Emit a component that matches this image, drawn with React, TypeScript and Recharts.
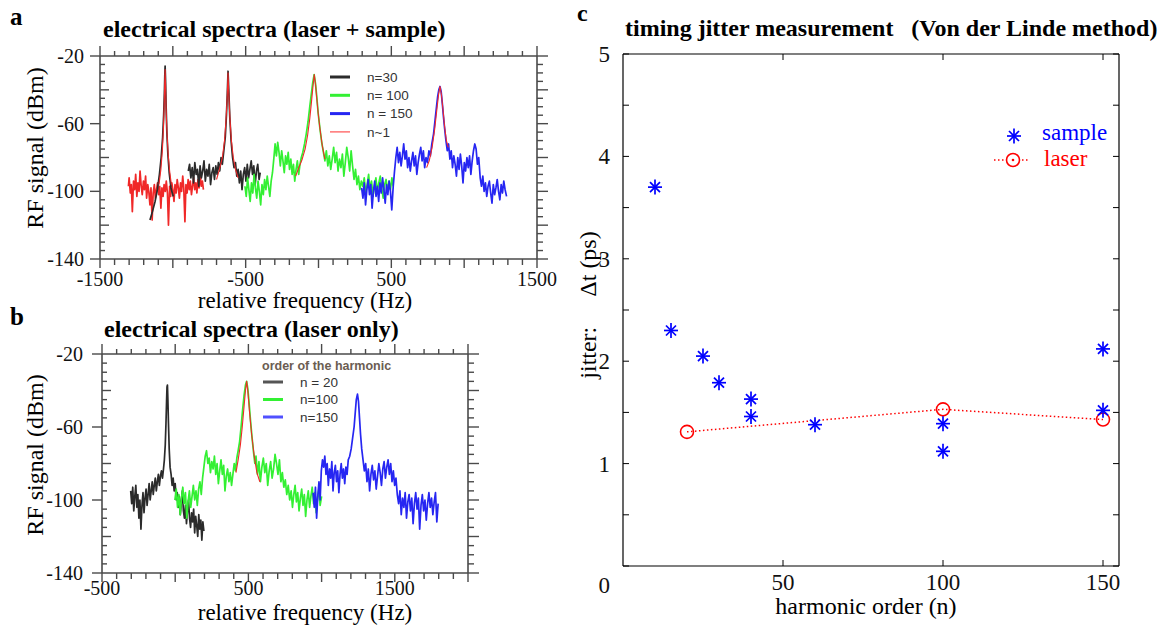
import React from 'react';
import { LineChart, Line, XAxis, YAxis, ComposedChart, Scatter } from 'recharts';

type P = [number, number];

const SERIF = '"Liberation Serif","Times New Roman",Times,serif';
const SANS = '"Liberation Sans",Arial,Helvetica,sans-serif';
const FRAME = '#4a4a4a';

const C_BLACK = '#2b2b2b';
const C_GREEN = '#33f033';
const C_BLUE = '#2626f2';
const C_RED = '#f02828';

// ---------- Panel a : electrical spectra (laser + sample) ----------
const A_RED_NOISE: P[] = [
  [-1305,-97],[-1300,-92],[-1292,-101],[-1285,-96],[-1278,-112],[-1270,-94],[-1262,-99],[-1255,-90],[-1247,-103],[-1240,-95],
  [-1232,-100],[-1225,-88],[-1217,-97],[-1210,-102],[-1202,-94],[-1195,-99],[-1187,-91],[-1180,-104],[-1172,-96],[-1165,-100],
  [-1157,-108],[-1150,-98],[-1142,-117],[-1135,-101],[-1127,-96],[-1120,-104],[-1112,-99],[-1105,-95],[-1097,-102],[-1090,-97],
  [-1082,-110],[-1075,-98],[-1067,-103],[-1060,-96],[-1052,-100],[-1045,-94],[-1037,-101],[-1030,-120],[-1022,-97],[-1015,-103],
  [-1007,-95],[-1000,-99],[-992,-106],[-985,-96],[-977,-101],[-970,-93],[-962,-98],[-955,-104],[-947,-95],[-940,-100],
  [-932,-91],[-925,-98],[-917,-118],[-910,-96],[-902,-101],[-895,-93],[-887,-99],[-880,-94],[-872,-102],[-865,-97],
  [-857,-92],[-850,-99],[-842,-95],[-835,-101],[-827,-93],[-820,-98],[-812,-90],[-805,-97],[-797,-94],[-790,-99],
];
const A_BLACK_PEAK: P[] = [
  [-1157,-117],[-1140,-112],[-1122,-106],[-1106,-99],[-1092,-90],[-1080,-80],[-1070,-68],[-1063,-55],[-1058,-42],[-1055,-31],
  [-1053,-26],[-1050,-34],[-1046,-50],[-1041,-65],[-1034,-78],[-1025,-89],[-1013,-98],[-997,-103],
];
const A_BLACK_NOISE: P[] = [
  [-894,-88],[-885,-84],[-876,-92],[-867,-86],[-858,-95],[-849,-83],[-840,-90],[-831,-87],[-822,-97],[-813,-85],
  [-804,-92],[-795,-88],[-786,-82],[-777,-94],[-768,-87],[-759,-91],[-750,-84],[-741,-96],[-732,-89],[-723,-86],
  [-714,-93],[-705,-85],[-696,-90],[-687,-83],[-678,-88],[-669,-80],[-660,-84],[-650,-76],[-640,-68],[-632,-55],
  [-626,-42],[-621,-29],[-616,-40],[-609,-56],[-600,-70],[-590,-80],[-580,-86],[-570,-83],[-561,-91],[-552,-87],
  [-543,-95],[-534,-88],[-525,-99],[-516,-90],[-507,-86],[-498,-94],[-489,-84],[-480,-92],[-471,-87],[-462,-82],
  [-453,-90],[-444,-85],[-435,-96],[-426,-88],[-417,-84],[-408,-93],[-400,-89],
];
const A_GREEN: P[] = [
  [-505,-97],[-496,-103],[-487,-92],[-478,-99],[-469,-106],[-460,-95],[-451,-101],[-442,-90],[-433,-98],[-424,-104],
  [-415,-94],[-406,-100],[-397,-108],[-388,-96],[-379,-102],[-370,-93],[-361,-99],[-352,-91],[-343,-97],[-334,-103],
  [-325,-94],[-316,-89],[-307,-81],[-298,-72],[-289,-79],[-280,-71],[-271,-77],[-262,-85],[-253,-76],[-244,-82],
  [-235,-89],[-226,-79],[-217,-84],[-208,-77],[-199,-87],[-190,-81],[-181,-90],[-172,-84],[-163,-94],[-154,-87],
  [-145,-82],[-136,-90],[-127,-84],[-118,-80],[-108,-77],[-96,-72],[-84,-66],[-72,-59],[-60,-50],[-50,-43],
  [-40,-36],[-30,-31],[-21,-36],[-12,-44],[-2,-54],[10,-63],[22,-71],[34,-77],[44,-82],[54,-76],
  [64,-85],[74,-79],[84,-87],[94,-81],[104,-74],[114,-83],[124,-77],[134,-88],[144,-81],[154,-86],
  [164,-78],[174,-91],[184,-83],[194,-74],[204,-80],[214,-88],[224,-76],[234,-85],[244,-93],[254,-87],
  [264,-96],[274,-91],[284,-99],[294,-94],[304,-97],[314,-92],[324,-101],[334,-96],[344,-90],[354,-99],
  [364,-94],[374,-103],[384,-97],[394,-92],[404,-100],[414,-95],[424,-91],[434,-98],[444,-104],[454,-96],
  [464,-93],[474,-100],[484,-94],[494,-99],[504,-92],[513,-97],
];
const A_BLUE: P[] = [
  [296,-98],[305,-104],[314,-95],[323,-108],[332,-99],[341,-93],[350,-102],[359,-96],[368,-110],[377,-100],
  [386,-94],[395,-103],[404,-97],[413,-106],[422,-95],[431,-101],[440,-92],[449,-99],[458,-107],[467,-96],
  [476,-102],[485,-94],[494,-100],[503,-111],[513,-97],[522,-88],[531,-80],[540,-74],[549,-83],[558,-77],
  [567,-85],[576,-79],[585,-72],[594,-81],[603,-76],[612,-86],[621,-80],[630,-88],[639,-82],[648,-77],
  [657,-85],[666,-79],[675,-90],[684,-83],[693,-78],[702,-74],[711,-82],[720,-76],[729,-86],[738,-80],
  [748,-83],[758,-76],[768,-79],[778,-72],[790,-66],[800,-58],[810,-50],[818,-44],[826,-40],[834,-38],
  [842,-41],[850,-48],[858,-56],[866,-63],[875,-70],[884,-76],[893,-72],[902,-81],[911,-76],[920,-86],
  [929,-79],[938,-84],[947,-91],[956,-80],[965,-87],[974,-78],[983,-85],[992,-95],[1001,-83],[1010,-88],
  [1019,-80],[1028,-86],[1037,-79],[1046,-90],[1055,-82],[1064,-76],[1073,-72],[1082,-75],[1091,-84],[1100,-80],
  [1110,-92],[1119,-97],[1128,-91],[1137,-100],[1146,-95],[1155,-103],[1164,-97],[1173,-94],[1182,-101],[1191,-107],
  [1200,-96],[1209,-102],[1218,-98],[1227,-93],[1236,-100],[1245,-105],[1254,-96],[1263,-101],[1272,-94],[1281,-99],
  [1291,-103],
];
const A_FIT1: P[] = [
  [-1095,-96],[-1082,-87],[-1072,-76],[-1064,-62],[-1059,-48],[-1056,-36],[-1053,-28],[-1050,-37],[-1046,-52],
  [-1040,-66],[-1032,-78],[-1022,-88],[-1010,-96],
];
const A_FIT2: P[] = [
  [-700,-93],[-680,-87],[-660,-80],[-645,-70],[-635,-58],[-627,-45],[-621,-30],[-616,-42],[-608,-57],[-598,-70],
  [-585,-80],[-570,-87],[-552,-92],
];
const A_FIT3: P[] = [
  [-157,-91],[-135,-86],[-112,-81],[-92,-75],[-75,-67],[-60,-57],[-48,-47],[-38,-38],[-29,-31],[-20,-37],
  [-12,-45],[-2,-54],[10,-63],[26,-73],[44,-81],
];
const A_FIT4: P[] = [
  [742,-86],[760,-82],[780,-74],[798,-63],[812,-52],[824,-43],[834,-38],[844,-43],[855,-52],[866,-62],
  [878,-70],[891,-74],
];
const A_XLABELS = [-1500, -500, 500, 1500];
const A_YLABELS = [-20, -60, -100, -140];
const A_LEGEND = ['n=30', 'n= 100', 'n = 150', 'n~1'];

// ---------- Panel b : electrical spectra (laser only) ----------
const B_BLACK: P[] = [
  [-304,-95],[-297,-102],[-290,-93],[-283,-106],[-276,-98],[-269,-92],[-262,-104],[-255,-97],[-248,-110],[-241,-100],
  [-234,-116],[-227,-103],[-220,-96],[-213,-107],[-206,-99],[-199,-94],[-192,-103],[-185,-97],[-178,-91],[-171,-100],
  [-164,-95],[-157,-90],[-150,-97],[-143,-92],[-136,-88],[-129,-95],[-122,-90],[-115,-86],[-108,-92],[-101,-87],
  [-94,-84],[-87,-88],[-80,-83],[-74,-78],[-68,-70],[-63,-58],[-59,-46],[-56,-38],[-53,-37],[-50,-45],
  [-46,-58],[-41,-72],[-35,-82],[-28,-86],[-21,-92],[-14,-88],[-7,-95],[0,-91],[7,-100],[14,-96],
  [21,-104],[28,-98],[35,-108],[42,-101],[49,-95],[56,-106],[63,-110],[70,-103],[77,-113],[84,-106],
  [91,-100],[98,-110],[105,-115],[112,-107],[119,-112],[126,-105],[133,-118],[140,-109],[147,-114],[154,-120],
  [161,-108],[168,-116],[175,-111],[182,-122],[189,-112],[196,-117],
];
const B_GREEN: P[] = [
  [-2,-100],[7,-94],[16,-104],[25,-97],[34,-108],[43,-99],[52,-93],[61,-102],[70,-96],[79,-110],
  [88,-101],[97,-95],[106,-104],[115,-98],[124,-92],[133,-100],[142,-95],[151,-103],[160,-94],[169,-90],
  [178,-97],[187,-88],[196,-82],[205,-76],[214,-73],[223,-80],[232,-77],[241,-85],[250,-79],[259,-83],
  [268,-76],[277,-86],[286,-80],[295,-91],[304,-84],[313,-78],[322,-86],[331,-81],[340,-95],[349,-87],
  [358,-83],[367,-90],[376,-85],[385,-92],[394,-86],[403,-80],[412,-84],[421,-77],[430,-73],[440,-68],
  [450,-60],[460,-51],[470,-43],[480,-37],[488,-35],[496,-39],[505,-47],[514,-56],[524,-65],[534,-73],
  [544,-80],[552,-76],[562,-86],[572,-79],[582,-90],[592,-82],[602,-77],[612,-85],[622,-80],[632,-92],
  [642,-84],[652,-79],[662,-88],[672,-83],[682,-75],[692,-80],[702,-86],[712,-78],[722,-90],[732,-85],
  [742,-93],[752,-89],[762,-97],[772,-92],[782,-100],[792,-95],[801,-104],[810,-97],[819,-92],[828,-101],
  [837,-96],[846,-106],[855,-99],[864,-94],[873,-103],[882,-97],[891,-109],[900,-100],[909,-95],[918,-104],
  [927,-98],[936,-93],[945,-102],[954,-96],[963,-107],[972,-99],[981,-94],[990,-103],[1000,-98],
];
const B_BLUE: P[] = [
  [942,-96],[950,-104],[958,-93],[966,-110],[974,-98],[982,-90],[990,-100],[998,-84],[1006,-78],[1014,-82],
  [1022,-76],[1030,-86],[1038,-80],[1046,-92],[1054,-83],[1062,-88],[1070,-79],[1078,-95],[1086,-85],[1094,-81],
  [1102,-90],[1110,-84],[1118,-96],[1126,-86],[1134,-80],[1142,-88],[1150,-83],[1158,-91],[1166,-82],[1174,-86],
  [1182,-78],[1192,-76],[1202,-72],[1212,-66],[1222,-60],[1230,-52],[1237,-45],[1245,-42],[1252,-46],[1259,-55],
  [1266,-64],[1274,-72],[1283,-78],[1292,-84],[1301,-80],[1310,-90],[1319,-83],[1328,-95],[1337,-86],[1346,-81],
  [1355,-89],[1364,-84],[1373,-94],[1382,-87],[1391,-80],[1400,-85],[1409,-92],[1418,-83],[1427,-79],[1436,-88],
  [1445,-82],[1454,-78],[1463,-86],[1472,-80],[1481,-90],[1490,-84],[1499,-92],[1508,-88],[1517,-97],[1526,-102],
  [1535,-95],[1544,-108],[1553,-99],[1562,-104],[1571,-96],[1580,-110],[1589,-101],[1598,-97],[1607,-106],[1616,-99],
  [1625,-113],[1634,-102],[1643,-96],[1652,-105],[1661,-99],[1670,-116],[1679,-103],[1688,-97],[1697,-106],[1706,-100],
  [1715,-111],[1724,-102],[1733,-96],[1742,-104],[1751,-99],[1760,-108],[1769,-101],[1778,-96],[1787,-112],[1796,-102],
];
const B_FIT: P[] = [
  [415,-85],[430,-78],[445,-70],[458,-60],[470,-49],[480,-40],[488,-35],[497,-41],[508,-52],[522,-64],
  [540,-76],[558,-85],[578,-90],
];
const B_XLABELS = [-500, 500, 1500];
const B_YLABELS = [-20, -60, -100, -140];
const B_LEGEND_TITLE = 'order of the harmonic';
const B_LEGEND = ['n = 20', 'n=100', 'n=150'];

// ---------- Panel c : timing jitter ----------
const C_SAMPLE_N = [10, 15, 25, 30, 40, 40, 60, 100, 100, 150, 150];
const C_SAMPLE_J = [3.70, 2.30, 2.05, 1.79, 1.63, 1.46, 1.38, 1.39, 1.12, 2.12, 1.52];
const C_LASER_N = [20, 100, 150];
const C_LASER_J = [1.31, 1.53, 1.43];
const C_XLABELS = [50, 100, 150];
const C_YLABELS = [0, 1, 2, 3, 4, 5];

// ---------- helpers ----------
const rows = (pts: P[]) => pts.map(([f, d]) => ({ f, d }));
const steps = (a: number, b: number, s: number) => {
  const out: number[] = [];
  for (let v = a; v <= b + 1e-9; v += s) out.push(Math.round(v * 1000) / 1000);
  return out;
};

const specXTick = (side: 'top' | 'bottom', labels: number[], labelDy: number) => (props: any) => {
  const { x, y, payload } = props;
  const v = payload.value;
  const major = v % 500 === 0;
  const len = side === 'bottom' ? (major ? 9 : 6) : (major ? 10 : 5);
  const dir = side === 'bottom' ? 1 : -1;
  return (
    <g>
      <line x1={x} x2={x} y1={y} y2={y + dir * len} stroke={FRAME} strokeWidth={1.4} />
      {side === 'bottom' && labels.includes(v) ? (
        <text x={x} y={y + labelDy} textAnchor="middle" fontFamily={SERIF} fontSize={20} fill="#111">{String(v)}</text>
      ) : null}
    </g>
  );
};

const specYTick = (side: 'left' | 'right', labels: number[], labelDx: number) => (props: any) => {
  const { x, y, payload } = props;
  const v = payload.value;
  const major = v % 20 === 0;
  if (side === 'left') {
    const lab = labels.includes(v);
    const x2 = lab ? x - 10 : x + (major ? 9 : 5);
    return (
      <g>
        <line x1={x} x2={x2} y1={y} y2={y} stroke={FRAME} strokeWidth={1.4} />
        {lab ? (
          <text x={x - labelDx} y={y} dy="0.35em" textAnchor="end" fontFamily={SERIF} fontSize={20} fill="#111">{String(v)}</text>
        ) : null}
      </g>
    );
  }
  return (
    <g>
      <line x1={x} x2={x + (major ? 11 : 6)} y1={y} y2={y} stroke={FRAME} strokeWidth={1.4} />
    </g>
  );
};

const cXTick = (side: 'top' | 'bottom') => (props: any) => {
  const { x, y, payload } = props;
  const v = payload.value;
  const dir = side === 'bottom' ? -1 : 1;
  return (
    <g>
      <line x1={x} x2={x} y1={y} y2={y + dir * 6} stroke="#000" strokeWidth={1} />
      {side === 'bottom' && C_XLABELS.includes(v) ? (
        <text x={x} y={y + 24} textAnchor="middle" fontFamily={SERIF} fontSize={23} fill="#111">{String(v)}</text>
      ) : null}
    </g>
  );
};

const cYTick = (side: 'left' | 'right') => (props: any) => {
  const { x, y, payload } = props;
  const v = payload.value;
  const dir = side === 'left' ? 1 : -1;
  const lab = side === 'left' && C_YLABELS.includes(v);
  return (
    <g>
      <line x1={x} x2={x + dir * 6} y1={y} y2={y} stroke="#000" strokeWidth={1} />
      {lab ? (
        <text x={x - 13} y={v === 0 ? y + 19 : y} dy="0.35em" textAnchor="end" fontFamily={SERIF} fontSize={23} fill="#111">{String(v)}</text>
      ) : null}
    </g>
  );
};

const Star = (props: any) => {
  const { cx, cy } = props;
  if (cx == null || cy == null) return null;
  return (
    <g stroke="#0000ff" strokeWidth={1.7}>
      <line x1={cx - 7} x2={cx + 7} y1={cy} y2={cy} />
      <line x1={cx} x2={cx} y1={cy - 7.5} y2={cy + 7.5} />
      <line x1={cx - 5} x2={cx + 5} y1={cy - 5} y2={cy + 5} />
      <line x1={cx - 5} x2={cx + 5} y1={cy + 5} y2={cy - 5} />
    </g>
  );
};

const axisLineStyle = { stroke: FRAME, strokeWidth: 1.6 };

export default function App() {
  const aXT = steps(-1500, 1500, 100);
  const bXT = steps(-500, 2000, 100);
  const yT = steps(-140, -20, 5);
  const cYT = steps(0, 5, 0.5);

  const line = (key: string, data: P[], color: string, w: number) => (
    <Line
      key={key}
      xAxisId="b"
      yAxisId="l"
      data={rows(data)}
      dataKey="d"
      type="linear"
      stroke={color}
      strokeWidth={w}
      dot={false}
      activeDot={false}
      isAnimationActive={false}
      strokeLinejoin="round"
    />
  );

  const specAxes = (xt: number[], dom: [number, number], xlabels: number[], ylabels: number[], xDy: number, yDx: number) => [
    <XAxis key="xb" xAxisId="b" type="number" dataKey="f" domain={dom} ticks={xt} interval={0} allowDataOverflow
      tickSize={0} tickMargin={0} tickLine={false} height={30} axisLine={axisLineStyle} tick={specXTick('bottom', xlabels, xDy)} />,
    <XAxis key="xt" xAxisId="t" orientation="top" type="number" dataKey="f" domain={dom} ticks={xt} interval={0} allowDataOverflow
      tickSize={0} tickMargin={0} tickLine={false} height={1} axisLine={axisLineStyle} tick={specXTick('top', xlabels, xDy)} />,
    <YAxis key="yl" yAxisId="l" type="number" domain={[-140, -20]} ticks={yT} interval={0} allowDataOverflow
      tickSize={0} tickMargin={0} tickLine={false} width={60} axisLine={axisLineStyle} tick={specYTick('left', ylabels, yDx)} />,
    <YAxis key="yr" yAxisId="r" orientation="right" type="number" domain={[-140, -20]} ticks={yT} interval={0} allowDataOverflow
      tickSize={0} tickMargin={0} tickLine={false} width={1} axisLine={axisLineStyle} tick={specYTick('right', ylabels, yDx)} />,
  ];

  const sample = C_SAMPLE_N.map((n, i) => ({ n, j: C_SAMPLE_J[i] }));
  const laser = C_LASER_N.map((n, i) => ({ n, j: C_LASER_J[i] }));

  const legendColorsA = [C_BLACK, C_GREEN, C_BLUE, '#ff5050'];
  const legendWidthsA = [3, 3, 3, 1.2];
  const legendColorsB = ['#555555', C_GREEN, '#5050ff'];

  return (
    <div style={{ position: 'absolute', left: 0, top: 0, width: 1158, height: 627, background: '#fff', overflow: 'hidden' }}>
      {/* panel a */}
      <div style={{ position: 'absolute', left: 0, top: 0 }}>
        <LineChart width={560} height={300} margin={{ top: 55, right: 22, bottom: 11, left: 40 }}>
          {specAxes(aXT, [-1500, 1500], A_XLABELS, A_YLABELS, 27, 16)}
          {line('redNoise', A_RED_NOISE, C_RED, 1.7)}
          {line('blackPeak', A_BLACK_PEAK, C_BLACK, 1.7)}
          {line('black', A_BLACK_NOISE, C_BLACK, 1.7)}
          {line('green', A_GREEN, C_GREEN, 1.7)}
          {line('blue', A_BLUE, C_BLUE, 1.7)}
          {line('fit1', A_FIT1, C_RED, 1.1)}
          {line('fit2', A_FIT2, C_RED, 1.1)}
          {line('fit3', A_FIT3, C_RED, 1.1)}
          {line('fit4', A_FIT4, C_RED, 1.1)}
        </LineChart>
      </div>
      {/* panel b */}
      <div style={{ position: 'absolute', left: 0, top: 300 }}>
        <LineChart width={560} height={327} margin={{ top: 53, right: 91, bottom: 24, left: 42 }}>
          {specAxes(bXT, [-500, 2000], B_XLABELS, B_YLABELS, 22, 19)}
          {line('bblack', B_BLACK, C_BLACK, 1.7)}
          {line('bgreen', B_GREEN, C_GREEN, 1.7)}
          {line('bblue', B_BLUE, C_BLUE, 1.7)}
          {line('bfit', B_FIT, C_RED, 1.1)}
        </LineChart>
      </div>
      {/* panel c */}
      <div style={{ position: 'absolute', left: 560, top: 0 }}>
        <ComposedChart width={598} height={627} margin={{ top: 53, right: 38, bottom: 31, left: 13 }}>
          <XAxis xAxisId="b" type="number" dataKey="n" domain={[0, 155]} ticks={C_XLABELS} interval={0} allowDataOverflow
            tickSize={0} tickMargin={0} tickLine={false} height={30} axisLine={{ stroke: '#000', strokeWidth: 1.2 }} tick={cXTick('bottom')} />
          <XAxis xAxisId="t" orientation="top" type="number" dataKey="n" domain={[0, 155]} ticks={C_XLABELS} interval={0} allowDataOverflow
            tickSize={0} tickMargin={0} tickLine={false} height={1} axisLine={{ stroke: '#000', strokeWidth: 1.2 }} tick={cXTick('top')} />
          <YAxis yAxisId="l" type="number" dataKey="j" domain={[0, 5]} ticks={cYT} interval={0} allowDataOverflow
            tickSize={0} tickMargin={0} tickLine={false} width={50} axisLine={{ stroke: '#000', strokeWidth: 1.2 }} tick={cYTick('left')} />
          <YAxis yAxisId="r" orientation="right" type="number" dataKey="j" domain={[0, 5]} ticks={cYT} interval={0} allowDataOverflow
            tickSize={0} tickMargin={0} tickLine={false} width={1} axisLine={{ stroke: '#000', strokeWidth: 1.2 }} tick={cYTick('right')} />
          <Line xAxisId="b" yAxisId="l" data={laser} dataKey="j" type="linear" stroke="#ff0000" strokeWidth={1.5}
            strokeDasharray="1.5 2.5" isAnimationActive={false} activeDot={false}
            dot={{ r: 6.5, stroke: '#ff0000', strokeWidth: 1.6, fill: 'none', strokeDasharray: '' }} />
          <Scatter xAxisId="b" yAxisId="l" data={sample} dataKey="j" shape={Star} isAnimationActive={false} />
        </ComposedChart>
      </div>

      {/* texts & legends */}
      <svg width={1158} height={627} style={{ position: 'absolute', left: 0, top: 0, pointerEvents: 'none' }}>
        {/* panel a */}
        <text x={10} y={25} fontFamily={SERIF} fontWeight="bold" fontSize={25} fill="#000">a</text>
        <text x={103} y={37} fontFamily={SERIF} fontWeight="bold" fontSize={24} fill="#000">electrical spectra (laser + sample)</text>
        <text transform="translate(43,148) rotate(-90)" textAnchor="middle" fontFamily={SERIF} fontSize={24} fill="#000">RF signal (dBm)</text>
        <text x={305} y={308} textAnchor="middle" fontFamily={SERIF} fontSize={23} fill="#000">relative frequency (Hz)</text>
        {A_LEGEND.map((t, i) => (
          <g key={t}>
            <line x1={330} x2={350} y1={77 + i * 18.3} y2={77 + i * 18.3} stroke={legendColorsA[i]} strokeWidth={legendWidthsA[i]} />
            <text x={367} y={77 + i * 18.3} dy="0.35em" fontFamily={SANS} fontSize={13.5} fill="#333">{t}</text>
          </g>
        ))}
        {/* panel b */}
        <text x={10} y={325} fontFamily={SERIF} fontWeight="bold" fontSize={25} fill="#000">b</text>
        <text x={104} y={337} fontFamily={SERIF} fontWeight="bold" fontSize={24} fill="#000">electrical spectra (laser only)</text>
        <text transform="translate(43,455) rotate(-90)" textAnchor="middle" fontFamily={SERIF} fontSize={24} fill="#000">RF signal (dBm)</text>
        <text x={305} y={620} textAnchor="middle" fontFamily={SERIF} fontSize={23} fill="#000">relative frequency (Hz)</text>
        <text x={262} y={366} dy="0.35em" fontFamily={SANS} fontWeight="bold" fontSize={12.5} fill="#6b5d52">{B_LEGEND_TITLE}</text>
        {B_LEGEND.map((t, i) => (
          <g key={t}>
            <line x1={263} x2={283} y1={382 + i * 17.5} y2={382 + i * 17.5} stroke={legendColorsB[i]} strokeWidth={3} />
            <text x={300} y={382 + i * 17.5} dy="0.35em" fontFamily={SANS} fontSize={13.5} fill="#333">{t}</text>
          </g>
        ))}
        {/* panel c */}
        <text x={577} y={21} fontFamily={SERIF} fontWeight="bold" fontSize={24} fill="#000">c</text>
        <text x={625} y={36} fontFamily={SERIF} fontWeight="bold" fontSize={24} fill="#000" style={{ whiteSpace: 'pre' }}>{'timing jitter measurement   (Von der Linde method)'}</text>
        <text transform="translate(596,305) rotate(-90)" textAnchor="middle" fontFamily={SERIF} fontSize={24} fill="#000" style={{ whiteSpace: 'pre' }}>{'jitter:     Δt (ps)'}</text>
        <text x={866} y={614} textAnchor="middle" fontFamily={SERIF} fontSize={24} fill="#000">harmonic order (n)</text>
        <Star cx={1014} cy={136} />
        <text x={1042} y={140} fontFamily={SERIF} fontSize={23} fill="#0000ff">sample</text>
        <line x1={994} x2={1030} y1={160} y2={160} stroke="#ff0000" strokeWidth={1.5} strokeDasharray="1.5 2.5" />
        <circle cx={1013} cy={160} r={6.5} stroke="#ff0000" strokeWidth={1.6} fill="#fff" />
        <circle cx={1013} cy={160} r={1.3} fill="#ff0000" />
        <text x={1044} y={166} fontFamily={SERIF} fontSize={23} fill="#ff0000">laser</text>
      </svg>
    </div>
  );
}
